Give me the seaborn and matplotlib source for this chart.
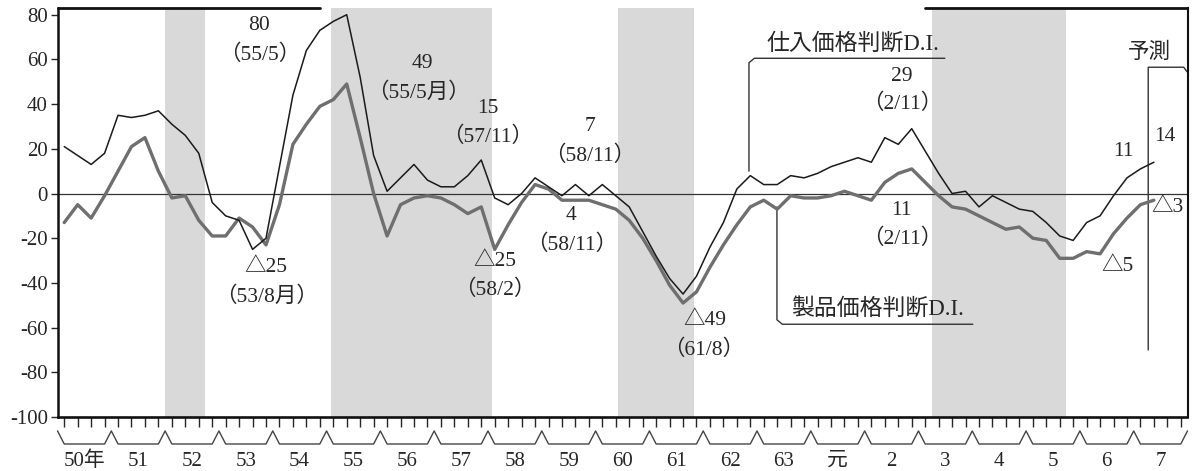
import numpy as np
import pandas as pd
import seaborn as sns
import matplotlib.pyplot as plt

# 仕入価格判断D.I. / 製品価格判断D.I.  quarterly, 50/2 .. 7/5
shiire = [21, 17, 13, 18, 35, 34, 35, 37, 31, 26, 18, -4, -10, -12, -25, -20,
          12, 44, 64, 73, 77, 80, 52, 17, 1, 7, 13, 6, 3, 3, 8, 15,
          -2, -5, 0, 7, 3, -1, 4, -1, 4, -1, -6, -17, -28, -38, -45, -37,
          -24, -13, 2, 8, 4, 4, 8, 7, 9, 12, 14, 16, 14, 25, 22, 29,
          19, 9, 0, 1, -6, -1, -4, -7, -8, -13, -19, -21, -13, -10, -1, 7,
          11, 14]
seihin = [-13, -5, -11, -1, 10, 21, 25, 10, -2, -1, -12, -19, -19, -11, -15, -23,
          -5, 22, 31, 39, 42, 49, 25, 0, -19, -5, -2, -1, -2, -5, -9, -6,
          -25, -14, -4, 4, 2, -3, -3, -3, -5, -7, -12, -20, -30, -41, -49, -44,
          -33, -23, -14, -6, -3, -7, -1, -2, -2, -1, 1, -1, -3, 5, 9, 11,
          5, -1, -6, -7, -10, -13, -16, -15, -20, -21, -29, -29, -26, -27, -18, -11,
          -5, -3]

year_labels = ["50年", "51", "52", "53", "54", "55", "56", "57", "58", "59", "60",
               "61", "62", "63", "元", "2", "3", "4", "5", "6", "7"]

# recession periods (年/月)
rec_start = ["52/1", "55/2", "60/6", "3/4"]
rec_end = ["52/10", "58/2", "61/11", "5/10"]

annotations = [
    ("80", 3.75, 75), ("（55/5）", 3.75, 62),
    ("49", 6.79, 58), ("（55/5月）", 6.7, 45),
    ("15", 8.0, 38), ("（57/11）", 8.0, 25.5),
    ("7", 9.89, 30), ("（58/11）", 9.89, 17),
    ("4", 9.55, -10), ("（58/11）", 9.55, -23),
    ("△25", 3.88, -33), ("（53/8月）", 3.88, -46),
    ("△25", 8.13, -30.5), ("（58/2）", 8.13, -43),
    ("△49", 12.03, -56.7), ("（61/8）", 12.0, -70),
    ("29", 15.69, 52.5), ("（2/11）", 15.69, 40),
    ("11", 15.69, -7.8), ("（2/11）", 15.69, -20.3),
    ("11", 19.8, 19), ("14", 20.57, 25.6),
    ("△3", 20.62, -6.2), ("△5", 19.7, -32.6),
    ("予測", 20.3, 63),
]


def to_x(s, mid=False):
    y, m = s.split("/")
    y = int(y)
    idx = y - 50 if y >= 50 else y + 13
    return idx + ((int(m) - 0.5) if mid else (int(m) - 1)) / 12


sns.set_style("white")
plt.rcParams["font.family"] = ["Liberation Serif", "Noto Sans CJK JP", "DejaVu Sans"]
plt.rcParams["axes.unicode_minus"] = False

n = len(shiire)
xq = np.arange(n) * 0.25 + to_x("50/2", mid=True)
df = pd.DataFrame({"x": xq, "shiire": shiire, "seihin": seihin})

fig = plt.figure(figsize=(11.95, 4.71), dpi=100)
ax = fig.add_axes([57.5 / 1195, 54 / 471, 1130 / 1195, 409 / 471])

for s, e in zip(rec_start, rec_end):
    ax.axvspan(to_x(s), to_x(e), color="#d9d9d9", lw=0, zorder=0)

ax.axhline(0, color="#333333", lw=0.9, zorder=1)

sns.lineplot(data=df, x="x", y="seihin", ax=ax, color="#6f6f6f", lw=2.4, zorder=3)
sns.lineplot(data=df, x="x", y="shiire", ax=ax, color="#1a1a1a", lw=1.1, zorder=4)

ax.set_xlim(0, 21)
ax.set_ylim(-100, 83)
ax.set_xlabel("")
ax.set_ylabel("")

yt = list(range(-100, 81, 20))
ax.set_yticks(yt)
ax.set_yticklabels([str(v) for v in yt], fontsize=15)
ax.set_xticks(np.arange(0, 21, 0.25) + 0.125)
ax.set_xticklabels([])
ax.tick_params(axis="y", direction="out", length=5, width=1, pad=2, left=True)
ax.tick_params(axis="x", direction="out", length=7, width=1, bottom=True)

for side, w in [("left", 1.8), ("bottom", 1.9), ("right", 1.5)]:
    ax.spines[side].set_linewidth(w)
    ax.spines[side].set_color("#111111")
ax.spines["top"].set_visible(False)

# broken top frame
tr = ax.get_xaxis_transform()
ax.plot([0, 4.87], [1, 1], transform=tr, color="#111111", lw=2.0, clip_on=False)
ax.plot([16.12, 21], [1, 1], transform=tr, color="#111111", lw=2.0, clip_on=False)

# year bracket zigzag under the axis
hi, lo = -0.034, -0.066
zx, zy = [0], [hi]
for k in range(1, 21):
    zx += [k - 0.125, k, k + 0.125]
    zy += [lo, hi, lo]
zx = [0, 0.125] + zx[1:] + [20.875, 21]
zy = [hi, lo] + zy[1:] + [lo, hi]
ax.plot(zx, zy, transform=tr, color="#444444", lw=1.0, clip_on=False)

for k, lab in enumerate(year_labels):
    ax.text(k + 0.5, -0.108, lab, transform=tr, ha="center", va="center", fontsize=15)

for t, x, y in annotations:
    ax.text(x, y, t, ha="center", va="center", fontsize=15.5, zorder=5)

# series labels with leader lines
ax.text(14.78, 66.7, "仕入価格判断D.I.", ha="center", va="center", fontsize=16.5)
ax.plot([12.85, 12.85, 12.95, 16.49], [10, 58.5, 60.5, 60.5], color="#333333", lw=1.0)
ax.text(15.24, -51.7, "製品価格判断D.I.", ha="center", va="center", fontsize=16.5)
ax.plot([13.37, 13.37, 13.47, 17.01], [-6, -56.5, -58.5, -58.5], color="#333333", lw=1.0)

# forecast bracket
ax.plot([20.27, 20.27, 20.93, 20.99], [-70, 56.5, 56.5, 54.5], color="#333333", lw=1.0)

fig.savefig("out.png", dpi=100)
